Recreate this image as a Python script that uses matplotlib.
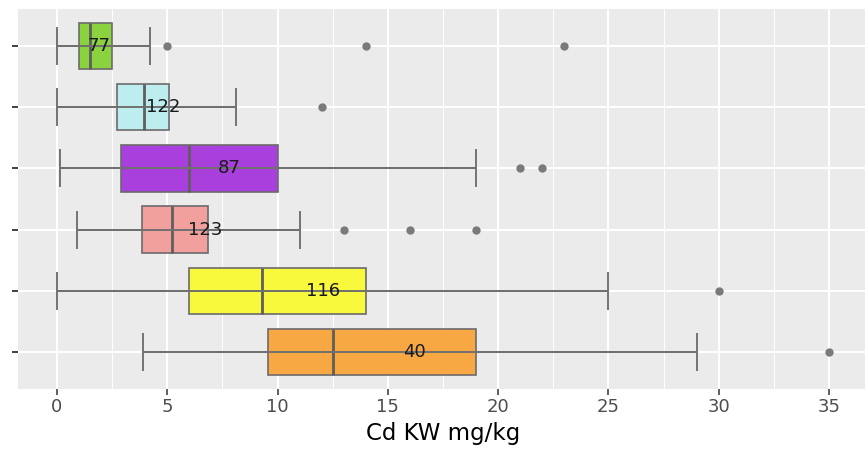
import matplotlib
matplotlib.use("Agg")
import matplotlib.pyplot as plt
from matplotlib.ticker import MultipleLocator

# box statistics, top row first
counts = [77, 122, 87, 123, 116, 40]
whislo = [0.0, 0.0, 0.15, 0.9, 0.0, 3.9]
q1 = [1.0, 2.7, 2.9, 3.85, 6.0, 9.55]
med = [1.5, 3.95, 6.0, 5.2, 9.3, 12.5]
q3 = [2.5, 5.1, 10.0, 6.85, 14.0, 19.0]
whishi = [4.2, 8.1, 19.0, 11.0, 25.0, 29.0]
fliers = [[5.0, 14.0, 23.0], [12.0], [21.0, 22.0], [13.0, 16.0, 19.0], [30.0], [35.0]]
label_x = [1.9, 4.8, 7.8, 6.7, 12.05, 16.2]  # where the count text sits
colors = ["#8AD23E", "#BDEDEE", "#A93FDD", "#F1A09D", "#F8F83C", "#F8A843"]

fig = plt.figure(figsize=(8.65, 4.57), dpi=100)
ax = fig.add_axes([18.4 / 865, 1 - 388.6 / 457, 849.2 / 865, 379.2 / 457])
ax.set_facecolor("#EBEBEB")
for s in ax.spines.values():
    s.set_visible(False)

n = len(counts)
positions = list(range(n, 0, -1))

stats = []
for i in range(n):
    stats.append(dict(whislo=whislo[i], q1=q1[i], med=med[i], q3=q3[i],
                      whishi=whishi[i], fliers=fliers[i]))

bp = ax.bxp(stats, positions=positions, vert=False, widths=0.76, capwidths=0.59,
            patch_artist=True, manage_ticks=False,
            boxprops=dict(edgecolor="#6B6B6B", linewidth=1.2),
            medianprops=dict(color="#5E5E5E", linewidth=2.0),
            whiskerprops=dict(color="#737373", linewidth=1.4),
            capprops=dict(color="#737373", linewidth=1.4),
            flierprops=dict(marker="o", markerfacecolor="#7A7A7A",
                            markeredgecolor="#7A7A7A", markersize=5))
for patch, c in zip(bp["boxes"], colors):
    patch.set_facecolor(c)
    patch.set_zorder(2)

# errorbar line drawn over the boxes, as in the original
ax.hlines(positions, whislo, whishi, color="#707070", linewidth=1.4, zorder=3)

for i in range(n):
    ax.text(label_x[i], positions[i], str(counts[i]), ha="center", va="center",
            fontsize=13, color="#1A1A1A", zorder=5)

ax.set_xlim(-1.75, 36.75)
ax.set_ylim(0.4, n + 0.6)
ax.xaxis.set_major_locator(MultipleLocator(5))
ax.xaxis.set_minor_locator(MultipleLocator(2.5))
ax.set_yticks(positions)
ax.set_yticklabels([""] * n)
ax.grid(which="major", color="white", linewidth=1.5, zorder=0)
ax.grid(which="minor", axis="x", color="white", linewidth=0.7, zorder=0)
ax.set_axisbelow(True)
ax.tick_params(axis="x", which="major", length=4, width=1.1, color="#333333",
               labelsize=13, labelcolor="#4D4D4D", pad=3)
ax.tick_params(axis="x", which="minor", length=0)
ax.tick_params(axis="y", length=4, width=1.3, color="#333333")
ax.set_xlabel("Cd KW mg/kg", fontsize=16.5, color="black", labelpad=4)

fig.savefig("out.png", dpi=100)
